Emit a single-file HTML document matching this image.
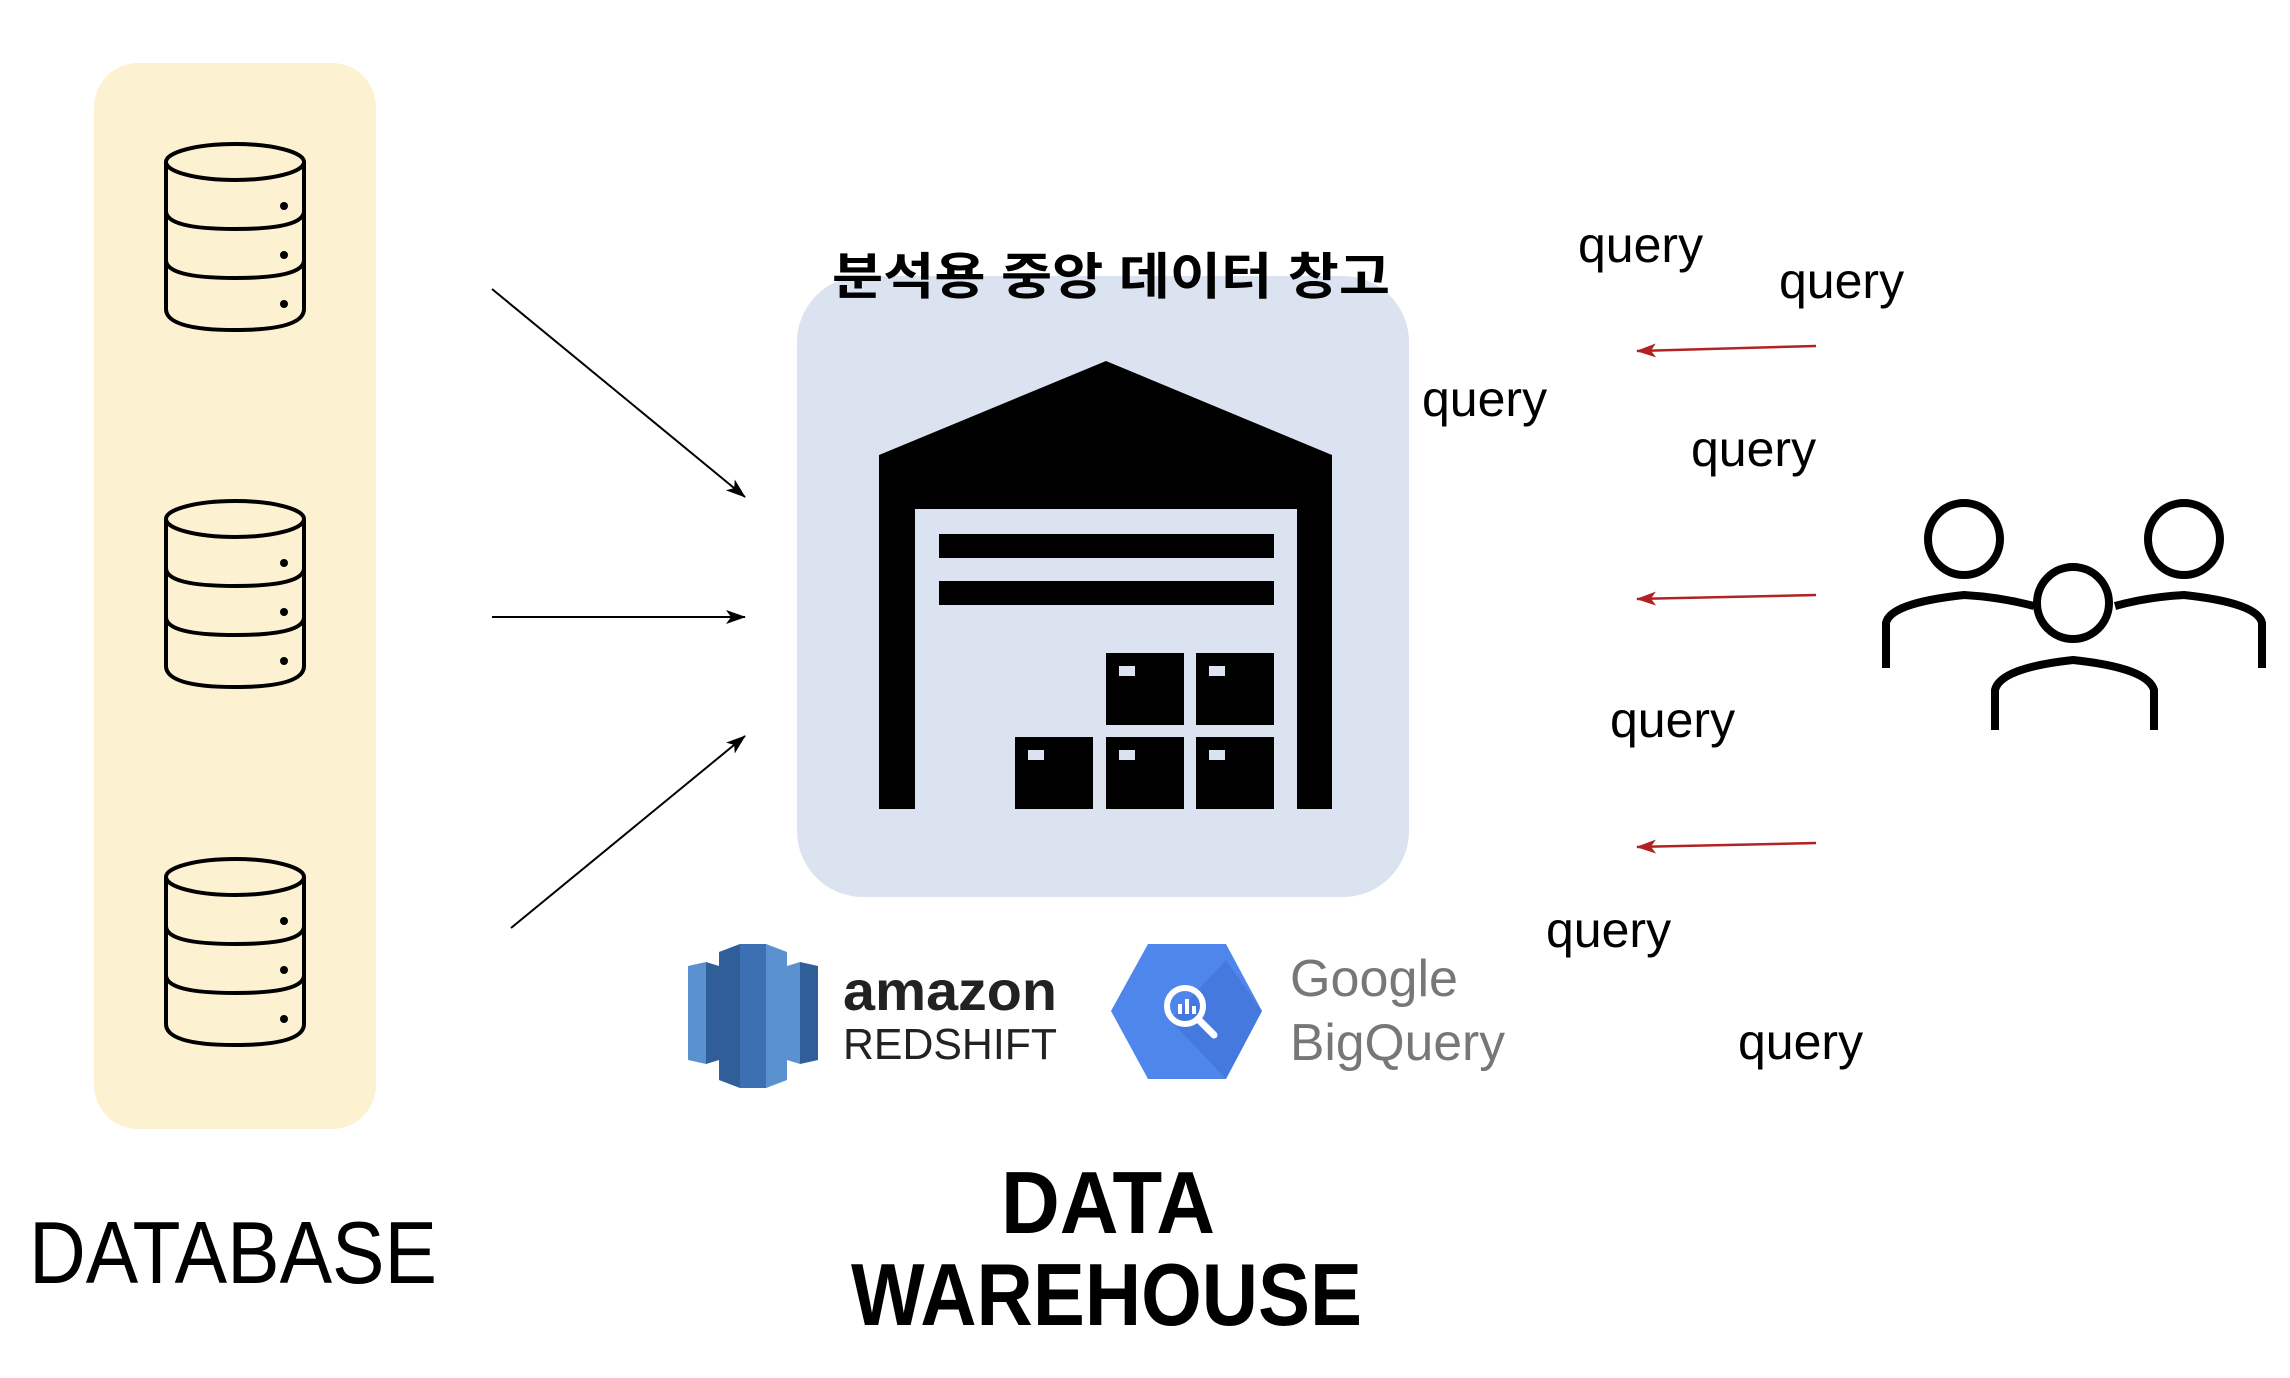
<!DOCTYPE html>
<html><head><meta charset="utf-8"><style>html,body{margin:0;padding:0;background:#fff}svg{display:block}</style></head>
<body>
<svg width="2290" height="1378" viewBox="0 0 2290 1378" xmlns="http://www.w3.org/2000/svg" font-family="Liberation Sans, Noto Sans CJK KR, sans-serif">
<defs>
<marker id="ar" markerWidth="20" markerHeight="14" refX="19" refY="7" orient="auto" markerUnits="userSpaceOnUse"><path d="M0,0 L20,7 L0,14 L5,7 z" fill="#b22222"/></marker>
<marker id="ab2" markerWidth="20" markerHeight="14" refX="19" refY="7" orient="auto" markerUnits="userSpaceOnUse"><path d="M0,0 L20,7 L0,14 L5,7 z" fill="#000"/></marker>
<g id="cyl" fill="none" stroke="#000" stroke-width="4">
<path d="M0,18 V165 Q0,186 69,186 Q138,186 138,165 V18"/>
<ellipse cx="69" cy="18" rx="69" ry="18"/>
<path d="M0,67 Q0,85 69,85 Q138,85 138,67"/>
<path d="M0,116 Q0,134 69,134 Q138,134 138,116"/>
<circle cx="118" cy="62" r="4" fill="#000" stroke="none"/>
<circle cx="118" cy="111" r="4" fill="#000" stroke="none"/>
<circle cx="118" cy="160" r="4" fill="#000" stroke="none"/>
</g>
</defs>
<rect x="94" y="63" width="282" height="1066" rx="44" fill="#fcf1d0"/>
<use href="#cyl" x="166" y="144"/>
<use href="#cyl" x="166" y="501"/>
<use href="#cyl" x="166" y="859"/>
<text x="29" y="1283" font-size="88" fill="#000" textLength="408" lengthAdjust="spacingAndGlyphs">DATABASE</text>

<line x1="492" y1="289" x2="745" y2="497" stroke="#000" stroke-width="2" marker-end="url(#ab2)"/>
<line x1="492" y1="617" x2="745" y2="617" stroke="#000" stroke-width="2" marker-end="url(#ab2)"/>
<line x1="511" y1="928" x2="745" y2="736" stroke="#000" stroke-width="2" marker-end="url(#ab2)"/>

<rect x="797" y="276" width="612" height="621" rx="66" fill="#dce3f0"/>
<text x="832" y="294" font-size="50" font-weight="bold" fill="#000" textLength="558" lengthAdjust="spacingAndGlyphs">분석용 중앙 데이터 창고</text>
<path d="M879,455 L1106,361 L1332,455 V809 H1297 V509 H915 V809 H879 Z" fill="#000"/>
<rect x="939" y="534" width="335" height="24" fill="#000"/>
<rect x="939" y="581" width="335" height="24" fill="#000"/>
<g fill="#000">
<rect x="1106" y="653" width="78" height="72"/><rect x="1196" y="653" width="78" height="72"/>
<rect x="1015" y="737" width="78" height="72"/><rect x="1106" y="737" width="78" height="72"/><rect x="1196" y="737" width="78" height="72"/>
</g>
<g fill="#dce3f0">
<rect x="1119" y="666" width="16" height="10"/><rect x="1209" y="666" width="16" height="10"/>
<rect x="1028" y="750" width="16" height="10"/><rect x="1119" y="750" width="16" height="10"/><rect x="1209" y="750" width="16" height="10"/>
</g>

<g>
<path d="M688,966 L706,962 V1064 L688,1060 Z" fill="#5a92cf"/>
<path d="M706,962 L719,966 V1060 L706,1064 Z" fill="#2f5e99"/>
<path d="M719,952 L740,944 V1088 L719,1080 Z" fill="#2f5e99"/>
<path d="M740,944 H766 V1088 H740 Z" fill="#3d70b2"/>
<path d="M766,944 L787,952 V1080 L766,1088 Z" fill="#5a92cf"/>
<path d="M787,966 L800,962 V1064 L787,1060 Z" fill="#5a92cf"/>
<path d="M800,962 L818,966 V1060 L800,1064 Z" fill="#2f5e99"/>
</g>
<text x="843" y="1010" font-size="56" font-weight="bold" fill="#222" textLength="214" lengthAdjust="spacingAndGlyphs">amazon</text>
<text x="843" y="1059" font-size="44" fill="#222" textLength="214" lengthAdjust="spacingAndGlyphs">REDSHIFT</text>

<path d="M1148,944 H1226 L1262,1011 L1226,1079 H1148 L1111,1011 Z" fill="#4f86ec"/>
<path d="M1170,1020 L1226,1079 L1262,1011 L1226,960 Z" fill="#3f72d6" opacity="0.6"/>
<circle cx="1185" cy="1006" r="18" fill="none" stroke="#fff" stroke-width="6"/>
<line x1="1198" y1="1019" x2="1214" y2="1035" stroke="#fff" stroke-width="7" stroke-linecap="round"/>
<rect x="1178" y="1004" width="4" height="10" fill="#fff"/><rect x="1185" y="999" width="4" height="15" fill="#fff"/><rect x="1192" y="1006" width="4" height="8" fill="#fff"/>
<text x="1290" y="996" font-size="52" fill="#777" textLength="168" lengthAdjust="spacingAndGlyphs">Google</text>
<text x="1290" y="1060" font-size="52" fill="#777" textLength="215" lengthAdjust="spacingAndGlyphs">BigQuery</text>

<text x="1001" y="1233" font-size="88" font-weight="bold" fill="#000" textLength="214" lengthAdjust="spacingAndGlyphs">DATA</text>
<text x="851" y="1325" font-size="88" font-weight="bold" fill="#000" textLength="511" lengthAdjust="spacingAndGlyphs">WAREHOUSE</text>

<g fill="#b22222" stroke="#b22222">
<line x1="1816" y1="346" x2="1637" y2="351" stroke-width="2.5" marker-end="url(#ar)"/>
<line x1="1816" y1="595" x2="1637" y2="599" stroke-width="2.5" marker-end="url(#ar)"/>
<line x1="1816" y1="843" x2="1637" y2="847" stroke-width="2.5" marker-end="url(#ar)"/>
</g>

<g font-size="50" fill="#000">
<text x="1578" y="262">query</text>
<text x="1779" y="298">query</text>
<text x="1422" y="416">query</text>
<text x="1691" y="466">query</text>
<text x="1610" y="737">query</text>
<text x="1546" y="947">query</text>
<text x="1738" y="1059">query</text>
</g>

<g fill="none" stroke="#000" stroke-width="8">
<circle cx="1964" cy="539" r="36"/>
<circle cx="2184" cy="539" r="36"/>
<circle cx="2073" cy="603" r="36"/>
<path d="M1886,668 V623 Q1890,603 1964,595 Q2000,597 2034,606"/>
<path d="M2262,668 V623 Q2258,603 2184,595 Q2148,597 2115,606"/>
<path d="M1995,730 V690 Q2000,668 2073,660 Q2148,668 2154,690 V730"/>
</g>
</svg>
</body></html>
